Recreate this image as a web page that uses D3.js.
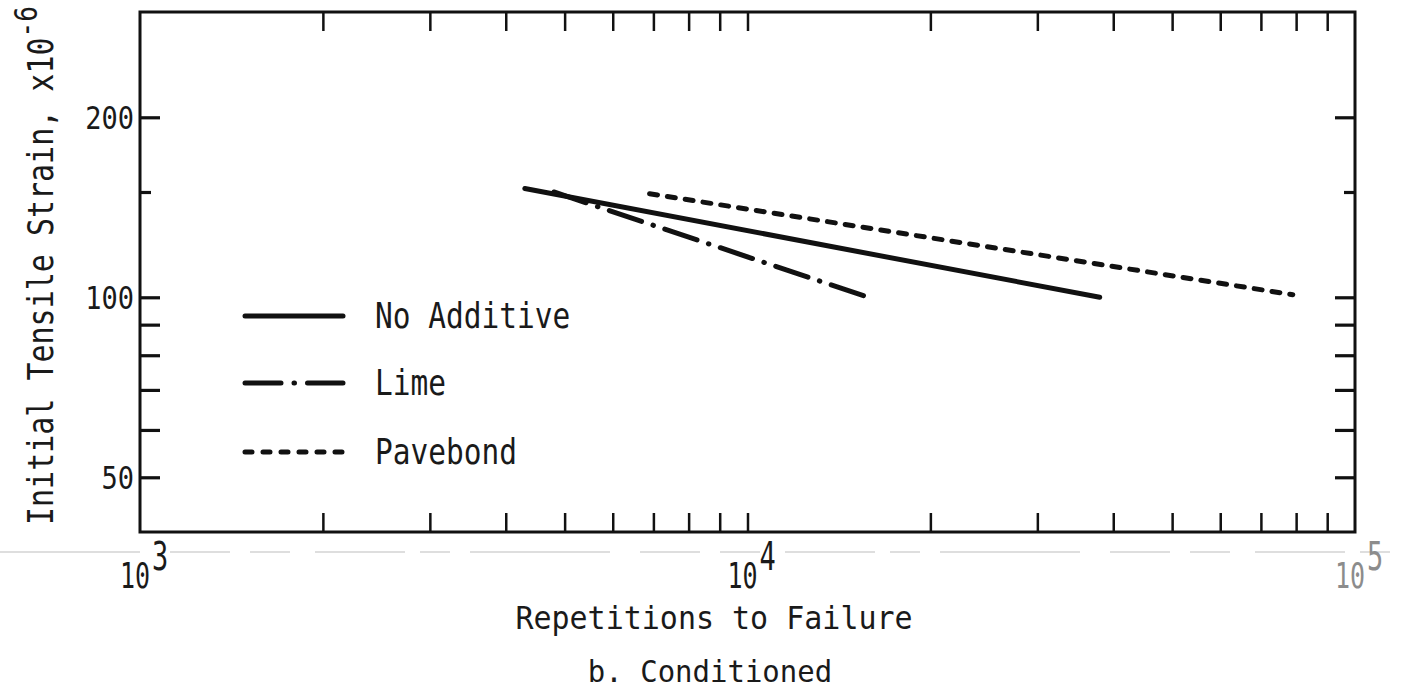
<!DOCTYPE html>
<html>
<head>
<meta charset="utf-8">
<script src="https://cdn.jsdelivr.net/npm/d3@7"></script>
<style>
  html, body { margin: 0; padding: 0; background: #fff; }
  svg text { font-family: "DejaVu Sans Mono", "Liberation Mono", monospace; fill: #1a1a1a; }
</style>
</head>
<body>
<svg id="chart" width="1402" height="694"></svg>
<script>
// Fatigue lines: initial tensile strain vs. repetitions to failure (log-log)
const seriesNames = ["No Additive", "Lime", "Pavebond"];
const noAdditive = [[4300, 152], [38000, 100]];
const lime = [[4800, 150], [15800, 100]];
const pavebond = [[6900, 149], [79000, 101]];

const xDecades = [1e3, 1e4, 1e5];
const xDecadeExps = ["3", "4", "5"];
const xMinorTicks = [2e3, 3e3, 4e3, 5e3, 6e3, 7e3, 8e3, 9e3, 1e4, 2e4, 3e4, 4e4, 5e4, 6e4, 7e4, 8e4, 9e4];
const yTicks = [50, 60, 70, 80, 90, 100, 150, 200];
const yLabels = [50, 100, 200];
const xTitle = "Repetitions to Failure";
const yTitle = "Initial Tensile Strain, x10";
const yTitleExp = "-6";
const caption = "b. Conditioned";

const svg = d3.select("#chart");
const plotLeft = 140, plotRight = 1355, plotTop = 12, plotBottom = 532;

const x = d3.scaleLog().domain([1e3, 1e5]).range([plotLeft, plotRight]);
const y = d3.scaleLog().domain([40.5, 300]).range([plotBottom, plotTop]);

// tall, narrow lettering: glyphs stretched vertically around their baseline
const tallText = (parent, tx, ty, stretch) =>
  parent.append("g").attr("transform", `translate(${tx},${ty}) scale(1,${stretch})`).append("text");

// scan line across the page below the frame
svg.append("line")
  .attr("x1", 0).attr("x2", 1402).attr("y1", 552).attr("y2", 552)
  .attr("stroke", "#d4d4d4").attr("stroke-width", 1.5)
  .attr("stroke-dasharray", "140,30,60,20,40,25,90,15,30,20");

// ticks, all pointing into the frame
const tickStyle = g => {
  g.select(".domain").remove();
  g.selectAll(".tick line").attr("stroke", "#111").attr("stroke-width", 2.5);
};

svg.append("g").attr("transform", `translate(0,${plotBottom})`)
  .call(d3.axisBottom(x).tickValues(xMinorTicks).tickSize(-19).tickFormat(""))
  .call(tickStyle);
svg.append("g").attr("transform", `translate(0,${plotTop})`)
  .call(d3.axisTop(x).tickValues(xMinorTicks).tickSize(-19).tickFormat(""))
  .call(tickStyle);

const yLeft = svg.append("g").attr("transform", `translate(${plotLeft},0)`)
  .call(d3.axisLeft(y).tickValues(yTicks).tickSize(-20).tickFormat(""))
  .call(tickStyle);
const yRight = svg.append("g").attr("transform", `translate(${plotRight},0)`)
  .call(d3.axisRight(y).tickValues(yTicks).tickSize(-20).tickFormat(""))
  .call(tickStyle);
[yLeft, yRight].forEach((g, i) => {
  g.selectAll(".tick line")
    .attr("stroke-width", 3.2)
    .attr("x2", d => (d === 150 ? 11 : 20) * (i === 0 ? 1 : -1));
});

// frame
svg.append("rect")
  .attr("x", plotLeft).attr("y", plotTop)
  .attr("width", plotRight - plotLeft).attr("height", plotBottom - plotTop)
  .attr("fill", "none").attr("stroke", "#111").attr("stroke-width", 3);

// y tick labels
yLabels.forEach(v => {
  tallText(svg, plotLeft - 6, y(v) + 11.5, 1.17)
    .attr("text-anchor", "end")
    .attr("font-size", 27)
    .text(v);
});

// x decade labels with superscript exponent
xDecades.forEach((v, i) => {
  const t = tallText(svg, x(v) - 20, 588, 1.45)
    .attr("font-size", 25)
    .style("fill", i === 2 ? "#8c8c8c" : "#1a1a1a");
  t.append("tspan").text("10");
  t.append("tspan").attr("dx", 2).attr("dy", -12.5).attr("font-size", 27).text(xDecadeExps[i]);
});

// axis titles and caption
tallText(svg, 714, 629, 1.05)
  .attr("text-anchor", "middle").attr("font-size", 30)
  .text(xTitle);

tallText(svg, 710, 682, 1.05)
  .attr("text-anchor", "middle").attr("font-size", 29)
  .text(caption);

const yt = svg.append("g")
  .attr("transform", "translate(53,525) rotate(-90) scale(1,1.2)")
  .append("text")
  .attr("font-size", 30);
yt.append("tspan").text(yTitle);
yt.append("tspan").attr("dy", -13).attr("font-size", 26).text(yTitleExp);

// series lines (round pen ends, so dash lengths allow for the caps)
const dashes = ["none", "34,12,0.5,12", "8,10"];
const seriesData = [noAdditive, lime, pavebond];
const line = d3.line().x(d => x(d[0])).y(d => y(d[1]));

svg.selectAll("path.series").data(seriesData).join("path")
  .attr("class", "series")
  .attr("d", line)
  .attr("fill", "none")
  .attr("stroke", "#111")
  .attr("stroke-width", 5)
  .attr("stroke-linecap", "round")
  .attr("stroke-dasharray", (d, i) => dashes[i]);

// legend
const legendY = [316, 383, 452];
const legend = svg.selectAll("g.legend").data(seriesNames).join("g")
  .attr("class", "legend")
  .attr("transform", (d, i) => `translate(243,${legendY[i]})`);
legend.append("line")
  .attr("x1", 2).attr("x2", 100)
  .attr("stroke", "#111").attr("stroke-width", 5)
  .attr("stroke-linecap", "round")
  .attr("stroke-dasharray", (d, i) => i === 1 ? "36,13,0.5,13" : i === 2 ? "7,11" : "none");
legend.each(function (d) {
  tallText(d3.select(this), 132, 12, 1.2)
    .attr("font-size", 29.5)
    .text(d);
});
</script>
</body>
</html>
